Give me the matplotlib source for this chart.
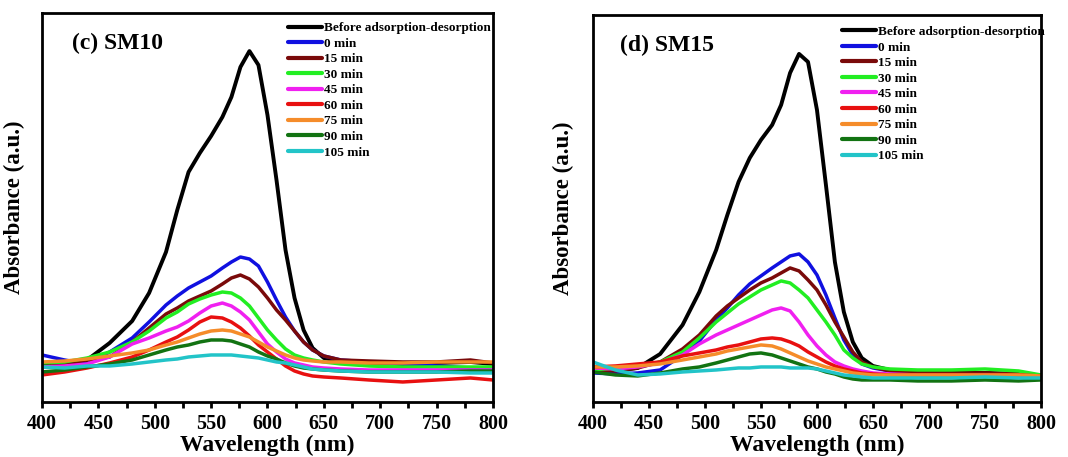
import matplotlib; matplotlib.use("Agg")
import matplotlib.pyplot as plt
from matplotlib.ticker import MultipleLocator

# UV-vis spectra of the dye before / after adsorption-desorption cycles, two samples
WL = [400, 420, 440, 460, 480, 495, 510, 520, 530, 540, 550, 560, 568, 576, 584,
      592, 600, 608, 616, 624, 632, 640, 650, 665, 690, 720, 750, 780, 800]
LABELS = ["Before adsorption-desorption", "0 min", "15 min", "30 min", "45 min",
          "60 min", "75 min", "90 min", "105 min"]
COLORS = ["#000000", "#1010e0", "#7a0a0a", "#22ee22", "#f020f0",
          "#e81010", "#f58c2a", "#127312", "#22c4c8"]

# (c) SM10
sm10_before = [0.37, 0.36, 0.42, 0.59, 0.81, 1.09, 1.50, 1.92, 2.30, 2.49, 2.66, 2.85, 3.05, 3.35, 3.51,
               3.37, 2.87, 2.22, 1.52, 1.04, 0.72, 0.54, 0.44, 0.40, 0.39, 0.38, 0.39, 0.40, 0.38]
sm10_0   = [0.47, 0.42, 0.38, 0.50, 0.64, 0.80, 0.97, 1.06, 1.14, 1.20, 1.26, 1.34, 1.40, 1.45, 1.43,
            1.36, 1.20, 1.02, 0.85, 0.71, 0.60, 0.52, 0.46, 0.42, 0.40, 0.38, 0.36, 0.34, 0.32]
sm10_15  = [0.35, 0.38, 0.42, 0.45, 0.60, 0.74, 0.88, 0.94, 1.01, 1.06, 1.11, 1.18, 1.24, 1.27, 1.23,
            1.15, 1.04, 0.92, 0.82, 0.71, 0.60, 0.52, 0.46, 0.42, 0.41, 0.40, 0.40, 0.42, 0.39]
sm10_30  = [0.39, 0.40, 0.44, 0.50, 0.60, 0.71, 0.84, 0.90, 0.98, 1.03, 1.07, 1.10, 1.09, 1.04, 0.96,
            0.84, 0.72, 0.62, 0.53, 0.47, 0.44, 0.42, 0.40, 0.38, 0.36, 0.35, 0.35, 0.35, 0.35]
sm10_45  = [0.35, 0.36, 0.38, 0.45, 0.58, 0.64, 0.71, 0.75, 0.81, 0.89, 0.96, 0.99, 0.96, 0.90, 0.82,
            0.70, 0.58, 0.50, 0.43, 0.39, 0.37, 0.35, 0.34, 0.33, 0.32, 0.32, 0.32, 0.32, 0.32]
sm10_60  = [0.27, 0.30, 0.34, 0.39, 0.45, 0.52, 0.60, 0.65, 0.72, 0.80, 0.85, 0.84, 0.80, 0.74, 0.66,
            0.57, 0.50, 0.43, 0.36, 0.31, 0.28, 0.26, 0.25, 0.24, 0.22, 0.20, 0.22, 0.24, 0.22]
sm10_75  = [0.40, 0.41, 0.43, 0.46, 0.49, 0.52, 0.57, 0.60, 0.64, 0.68, 0.71, 0.72, 0.71, 0.68, 0.65,
            0.60, 0.55, 0.51, 0.47, 0.44, 0.42, 0.41, 0.40, 0.40, 0.39, 0.39, 0.40, 0.40, 0.40]
sm10_90  = [0.30, 0.32, 0.35, 0.38, 0.42, 0.47, 0.52, 0.55, 0.57, 0.60, 0.62, 0.62, 0.61, 0.58, 0.55,
            0.50, 0.46, 0.43, 0.39, 0.36, 0.34, 0.33, 0.32, 0.31, 0.30, 0.30, 0.30, 0.31, 0.31]
sm10_105 = [0.35, 0.34, 0.36, 0.36, 0.38, 0.40, 0.42, 0.43, 0.45, 0.46, 0.47, 0.47, 0.47, 0.46, 0.45,
            0.44, 0.42, 0.40, 0.39, 0.37, 0.35, 0.33, 0.32, 0.31, 0.30, 0.30, 0.30, 0.29, 0.29]

# (d) SM15
sm15_before = [0.32, 0.31, 0.34, 0.48, 0.77, 1.10, 1.52, 1.87, 2.20, 2.44, 2.62, 2.77, 2.97, 3.29, 3.48,
               3.40, 2.92, 2.17, 1.40, 0.90, 0.60, 0.44, 0.36, 0.32, 0.30, 0.29, 0.29, 0.28, 0.25]
sm15_0   = [0.29, 0.28, 0.29, 0.32, 0.47, 0.61, 0.82, 0.94, 1.07, 1.18, 1.26, 1.34, 1.40, 1.46, 1.48,
            1.40, 1.27, 1.07, 0.84, 0.62, 0.47, 0.38, 0.34, 0.31, 0.29, 0.28, 0.27, 0.26, 0.25]
sm15_15  = [0.32, 0.31, 0.34, 0.40, 0.53, 0.67, 0.86, 0.96, 1.04, 1.12, 1.19, 1.24, 1.29, 1.34, 1.31,
            1.22, 1.12, 0.97, 0.80, 0.65, 0.50, 0.40, 0.35, 0.31, 0.30, 0.29, 0.29, 0.28, 0.27]
sm15_30  = [0.32, 0.34, 0.36, 0.40, 0.50, 0.64, 0.80, 0.89, 0.98, 1.05, 1.12, 1.17, 1.21, 1.19, 1.12,
            1.04, 0.92, 0.80, 0.67, 0.52, 0.44, 0.38, 0.35, 0.33, 0.32, 0.32, 0.33, 0.31, 0.27]
sm15_45  = [0.34, 0.33, 0.35, 0.39, 0.47, 0.58, 0.67, 0.72, 0.77, 0.82, 0.87, 0.92, 0.94, 0.91, 0.80,
            0.67, 0.56, 0.47, 0.40, 0.36, 0.33, 0.31, 0.29, 0.28, 0.27, 0.27, 0.27, 0.26, 0.25]
sm15_60  = [0.35, 0.36, 0.38, 0.40, 0.46, 0.49, 0.52, 0.55, 0.57, 0.60, 0.63, 0.64, 0.63, 0.60, 0.56,
            0.50, 0.45, 0.40, 0.36, 0.33, 0.31, 0.29, 0.28, 0.27, 0.27, 0.27, 0.27, 0.27, 0.26]
sm15_75  = [0.35, 0.35, 0.36, 0.38, 0.42, 0.45, 0.48, 0.51, 0.53, 0.55, 0.57, 0.56, 0.53, 0.49, 0.45,
            0.41, 0.38, 0.35, 0.33, 0.31, 0.29, 0.28, 0.27, 0.27, 0.27, 0.27, 0.27, 0.27, 0.26]
sm15_90  = [0.30, 0.27, 0.26, 0.29, 0.33, 0.35, 0.39, 0.42, 0.45, 0.48, 0.49, 0.47, 0.44, 0.41, 0.38,
            0.35, 0.33, 0.30, 0.28, 0.25, 0.23, 0.22, 0.22, 0.22, 0.21, 0.21, 0.22, 0.21, 0.22]
sm15_105 = [0.40, 0.32, 0.27, 0.28, 0.30, 0.31, 0.32, 0.33, 0.34, 0.34, 0.35, 0.35, 0.35, 0.34, 0.34,
            0.34, 0.33, 0.31, 0.29, 0.27, 0.26, 0.25, 0.24, 0.24, 0.24, 0.24, 0.25, 0.24, 0.24]

SM10 = [sm10_before, sm10_0, sm10_15, sm10_30, sm10_45, sm10_60, sm10_75, sm10_90, sm10_105]
SM15 = [sm15_before, sm15_0, sm15_15, sm15_30, sm15_45, sm15_60, sm15_75, sm15_90, sm15_105]

SERIF = ["Liberation Serif", "DejaVu Serif"]
plt.rcParams["font.family"] = SERIF
plt.rcParams["font.weight"] = "bold"

fig = plt.figure(figsize=(10.68, 4.57), dpi=100)
axL = fig.add_axes([0.0393, 0.1204, 0.4223, 0.851])
axR = fig.add_axes([0.5552, 0.1204, 0.4195, 0.847])

def panel(ax, curves, tag, ytop, leg_xy, tag_xy, ylab_x):
    for vals, lab, c in zip(curves, LABELS, COLORS):
        ax.plot(WL, vals, color=c, lw=2.8 if c == "#000000" else 2.5, label=lab,
                solid_joinstyle="round", solid_capstyle="round")
    ax.set_xlim(400, 800); ax.set_ylim(0, ytop)
    ax.xaxis.set_major_locator(MultipleLocator(50)); ax.xaxis.set_minor_locator(MultipleLocator(25))
    ax.set_yticks([])
    ax.tick_params(axis="x", which="both", direction="out", length=4, width=2, pad=5, labelsize=14.5)
    for s in ax.spines.values(): s.set_linewidth(2)
    ax.set_xlabel("Wavelength (nm)", fontsize=17, fontweight="bold")
    ax.xaxis.set_label_coords(0.5, -0.084)
    ax.set_ylabel("Absorbance (a.u.)", fontsize=16.5, fontweight="bold")
    ax.yaxis.set_label_coords(ylab_x, 0.5)
    ax.text(tag_xy[0], tag_xy[1], tag, transform=ax.transAxes, fontsize=17, fontweight="bold",
            ha="left", va="center")
    leg = ax.legend(loc="upper left", bbox_to_anchor=leg_xy, frameon=False, borderpad=0, borderaxespad=0,
                    handlelength=2.6, handletextpad=0.12, labelspacing=0.25,
                    prop={"family": SERIF, "weight": "bold", "size": 9.5})
    for h in leg.get_lines(): h.set_linewidth(3)

panel(axL, SM10, "(c) SM10", 3.89, (0.545, 0.977), (0.067, 0.923), -0.038)
panel(axR, SM15, "(d) SM15", 3.87, (0.556, 0.972), (0.060, 0.922), -0.042)

fig.savefig("out.png", dpi=100, facecolor="white")
